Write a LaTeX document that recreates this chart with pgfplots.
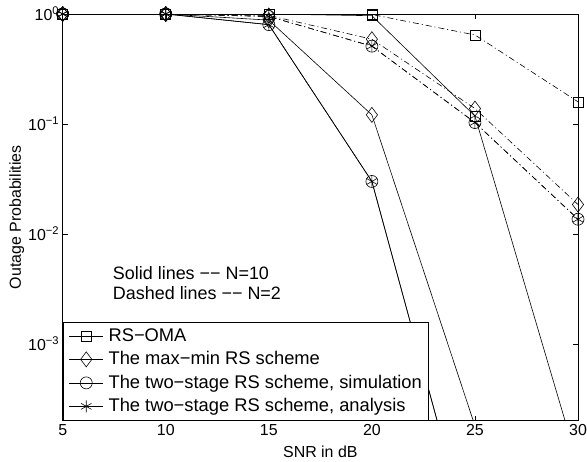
\documentclass[border=0pt]{standalone}
\usepackage{fontspec}
\setmainfont{Liberation Sans}
\usepackage{pgfplots}
\pgfplotsset{compat=1.18}

\tikzset{mydashdot/.style={dash pattern=on 6bp off 3bp on 1bp off 3bp}}

\begin{document}
\begin{tikzpicture}
\begin{axis}[
    scale only axis,
    width=515.3bp, height=406.7bp,
    xmin=5, xmax=30, ymin=2e-4, ymax=1,
    ymode=log,
    xtick={5,10,...,30},
    ytick={1,0.1,0.01,0.001},
    yticklabels={10\textsuperscript{0},10\textsuperscript{−1},10\textsuperscript{−2},10\textsuperscript{−3}},
    tick align=inside,
    major tick length=5bp, minor tick length=3bp,
    /pgf/number format/assume math mode=true,
    ticklabel style={font=\fontsize{16}{19}\selectfont},
    label style={font=\fontsize{16}{19}\selectfont},
    xlabel={SNR in dB},
    ylabel={Outage Probabilities},
    xlabel style={at={(axis description cs:0.5,-0.077)}, anchor=center},
    ylabel style={at={(axis description cs:-0.089,0.5)}, anchor=center},
    axis line style={line width=0.5bp},
    every tick/.style={black, line width=0.5bp},
    clip marker paths=false,
    legend cell align=left,
    legend style={at={(0,0)}, anchor=south west, draw=black, line width=0.5bp,
        font=\fontsize{18.4}{21}\selectfont,
        inner xsep=6bp, inner ysep=5.6bp, row sep=6.5bp, column sep=5bp,
        nodes={inner sep=0pt, text height=14bp, text depth=3bp}},
    legend image code/.code={\draw[mark indices={2}] plot coordinates {(0bp,0bp)(17bp,0bp)(34bp,0bp)};},
    every axis plot/.append style={black, line width=0.6bp, mark options={solid, line width=0.6bp}},
]
% N=10, solid lines
\addplot[mark=square, mark size=5bp, mark indices={1,2,3,4,5}]
    coordinates {(5,1)(10,1)(15,1)(20,0.965)(25,0.118)(30,8e-5)};
\addlegendentry{RS−OMA}
\addplot[mark=diamond, mark size=7.5bp, mark indices={1,2,3,4}]
    coordinates {(5,1)(10,1)(15,0.88)(20,0.121)(25,1.8e-4)};
\addlegendentry{The max−min RS scheme}
\addplot[mark=o, mark size=6bp, mark indices={1,2,3,4}]
    coordinates {(5,1)(10,1)(15,0.8)(20,0.03)(25,1.1e-5)};
\addlegendentry{The two−stage RS scheme, simulation}
\addplot[mark=asterisk, mark size=6bp, mark indices={1,2,3,4}]
    coordinates {(5,1)(10,1)(15,0.8)(20,0.03)(25,1.1e-5)};
\addlegendentry{The two−stage RS scheme, analysis}

% N=2, dash-dot lines
\addplot[mydashdot, mark=square, mark size=5bp, forget plot]
    coordinates {(5,1)(10,1)(15,1)(20,0.99)(25,0.645)(30,0.159)};
\addplot[mydashdot, mark=diamond, mark size=7.5bp, forget plot]
    coordinates {(5,1)(10,1)(15,0.97)(20,0.59)(25,0.138)(30,0.0185)};
\addplot[mydashdot, mark=o, mark size=6bp, forget plot]
    coordinates {(5,1)(10,1)(15,0.95)(20,0.51)(25,0.103)(30,0.0136)};
\addplot[mydashdot, mark=asterisk, mark size=6bp, forget plot]
    coordinates {(5,1)(10,1)(15,0.95)(20,0.51)(25,0.103)(30,0.0136)};

\node[anchor=base west, inner sep=0pt, font=\fontsize{18}{21}\selectfont]
    at (axis cs:7.43,3.88e-3) {Solid lines −− N=10};
\node[anchor=base west, inner sep=0pt, font=\fontsize{18}{21}\selectfont]
    at (axis cs:7.43,2.53e-3) {Dashed lines −− N=2};

\coordinate (bl) at (rel axis cs:0,0);
\coordinate (tr) at (rel axis cs:1,1);
\end{axis}
\pgfresetboundingbox
\path[use as bounding box] ([shift={(-62.7bp,-40.3bp)}]bl) rectangle ([shift={(9bp,14bp)}]tr);
\end{tikzpicture}
\end{document}
